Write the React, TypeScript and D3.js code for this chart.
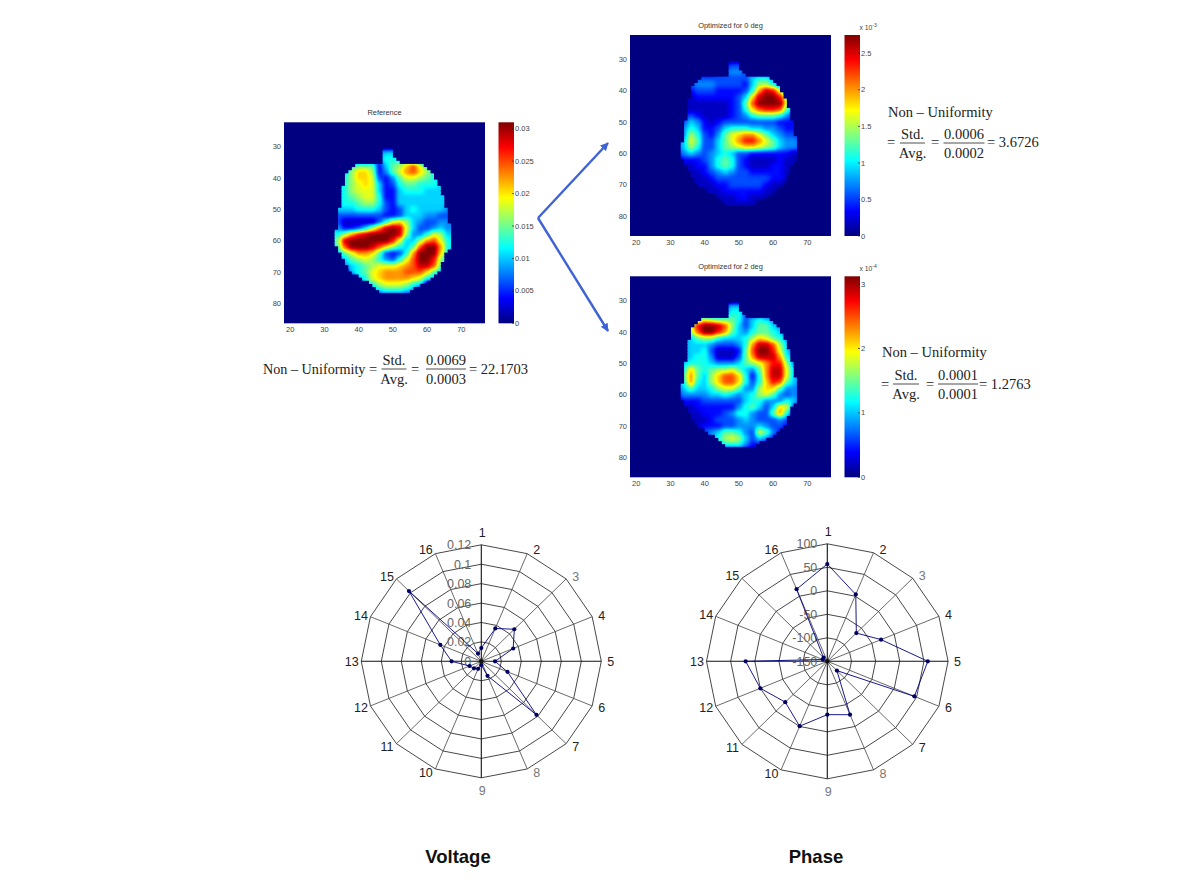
import React from 'react';
import * as d3 from 'd3';

// col centres 32,34..68 and row centres 30,32..78, one hex level per cell (0 = 0, f = bar max)
const colCenters = d3.range(32, 70, 2);
const rowCenters = d3.range(30, 80, 2);

const referenceRows = [
  '0000000000000000000',
  '0000000455400000000',
  '0000000466540000000',
  '00067772578ac964000',
  '0458aa82479bca86400',
  '0568aa9324799876500',
  '05689a9523677666540',
  '4568999522566655550',
  '4567899622555555554',
  '4566788632555555554',
  '4555666532356555544',
  '3333333322355544333',
  '3311111369a85433443',
  '4422358befe95334544',
  '668bdeffffe84469855',
  '58effffffd9558bc965',
  '57cfffeca8657cffb65',
  '0579bba73236bfffa60',
  '045789864369cffd850',
  '0045678999abceec700',
  '0005679abbbccca7500',
  '0000569abbbba965000',
  '0000056899986500000',
  '0000004566654000000',
  '0000000000000000000',
];

const zeroDegRows = [
  '0000000000000000000',
  '0000000233200000000',
  '0000002344320000000',
  '0023333333356642000',
  '0234443333258863200',
  '012333222236bed9420',
  '01122222235aeffd820',
  '01111111237cffff930',
  '01111111236acddc730',
  '1232111123467776421',
  '2354212333333332221',
  '3465223566655443221',
  '348632479abb9754332',
  '359733579bddb975443',
  '3586335789aa9875443',
  '2454345653322222211',
  '1222346763211112110',
  '0112246763211122110',
  '0111234543322222100',
  '0011123333333322100',
  '0001112233333211000',
  '0000111222222110000',
  '0000011112211100000',
  '0000000111110000000',
  '0000000000000000000',
];

const twoDegRows = [
  '0000000000000000000',
  '0000000355300000000',
  '0000003466300000000',
  '0057987776356543000',
  '059dffec85357754300',
  '048cffdb75467765300',
  '345788655568a976400',
  '34555433346beec8530',
  '34556311127cffd9530',
  '34566411137beeeb640',
  '4566654445789bdd840',
  '46a7678897547bee953',
  '47b758acca626bee953',
  '46b658acca636adc753',
  '3575568997448aa7443',
  '2444455654568974343',
  '1222333333566444653',
  '011222222467535a930',
  '001122234664337b620',
  '0011123334543334300',
  '0001222334445433200',
  '0000345776439742000',
  '0000046898535420000',
  '0000004666422000000',
  '0000000000000000000',
];

// blocky head outline, one row per y unit from 31 to 76
const maskRows = d3.range(31, 77);
const maskStart = [47, 47, 47, 47, 47, 39, 38, 37, 36, 36, 36, 36, 35, 35, 35, 35, 35, 35, 35, 34, 34, 34, 34, 34, 34, 34, 33, 33, 33, 33, 33, 34, 34, 35, 35, 36, 36, 37, 37, 38, 40, 41, 43, 44, 45, 46];
const maskEnd = [50, 50, 50, 51, 52, 59, 60, 61, 62, 62, 63, 63, 64, 64, 64, 65, 65, 65, 65, 66, 66, 66, 66, 66, 67, 67, 67, 67, 67, 67, 67, 67, 66, 65, 65, 65, 64, 64, 64, 63, 62, 61, 60, 58, 56, 55];

const xTicks = [20, 30, 40, 50, 60, 70];
const yTicks = [30, 40, 50, 60, 70, 80];

const refBarTicks = [0, 0.005, 0.01, 0.015, 0.02, 0.025, 0.03];
const refBarLabels = ['0', '0.005', '0.01', '0.015', '0.02', '0.025', '0.03'];
const zeroBarTicks = [0, 0.5, 1, 1.5, 2, 2.5];
const zeroBarLabels = ['0', '0.5', '1', '1.5', '2', '2.5'];
const twoBarTicks = [0, 1, 2, 3];
const twoBarLabels = ['0', '1', '2', '3'];

// radar charts
const spokes = d3.range(1, 17);
const fadedSpokes = [3, 8, 9];
const voltageValues = [0.0137, 0.0366, 0.0467, 0.0345, 0.0137, 0.0283, 0.078, 0.0162, 0.0038, 0.0084, 0.0103, 0.0127, 0.0297, 0.0444, 0.1023, 0.0086];
const voltageRings = [0, 0.02, 0.04, 0.06, 0.08, 0.1, 0.12];
const voltageRingLabels = ['0', '0.02', '0.04', '0.06', '0.08', '0.1', '0.12'];
const phaseValues = [57, 4, -65, -29.5, 58, 45, -122, -27, -36.5, -0.5, -27, 0, 19, -140, -139, 16];
const phaseRings = [-150, -100, -50, 0, 50, 100];
const phaseRingLabels = ['-150', '-100', '-50', '0', '50', '100'];

const jet = (v: number) => {
  const c = (d: number) => Math.max(0, Math.min(1, 1.5 - Math.abs(4 * v - d)));
  return [c(3), c(2), c(1)];
};
const jetSteps = d3.range(0, 1.0001, 1 / 64);
const jetTable = (ch: number) => jetSteps.map(v => jet(v)[ch].toFixed(3)).join(' ');
const jetCss = (v: number) => {
  const [r, g, b] = jet(v);
  return `rgb(${Math.round(r * 255)},${Math.round(g * 255)},${Math.round(b * 255)})`;
};

const sans = '"Liberation Sans", Arial, sans-serif';
const serif = '"Liberation Serif", "Times New Roman", serif';
const tickColor = '#444';

interface HeatProps {
  id: string;
  top: number;
  left: number;
  barLeft: number;
  title: string;
  rows: string[];
  barMax: number;
  barTicks: number[];
  barLabels: string[];
  exponent?: string;
}

const HeatMap: React.FC<HeatProps> = ({ id, top, left, barLeft, title, rows, barMax, barTicks, barLabels, exponent }) => {
  const w = 201;
  const h = 201;
  const x = d3.scaleLinear().domain([18.2, 76.9]).range([left, left + w]);
  const y = d3.scaleLinear().domain([22.2, 86.4]).range([top, top + h]);
  const bar = d3.scaleLinear().domain([0, barMax]).range([top + h, top]);
  const level = d3.scaleLinear().domain([0, 15]).range([0, 255]);
  return (
    <g>
      <defs>
        <clipPath id={`${id}-outline`}>
          {maskRows.map((r, i) => (
            <rect key={r} x={x(maskStart[i])} y={y(r - 0.5)} width={x(maskEnd[i]) - x(maskStart[i])} height={y(r + 0.5) - y(r - 0.5) + 1} />
          ))}
        </clipPath>
        <linearGradient id={`${id}-bar`} x1="0" y1="1" x2="0" y2="0">
          {jetSteps.map(v => <stop key={v} offset={v} stopColor={jetCss(v)} />)}
        </linearGradient>
      </defs>
      <rect x={left} y={top} width={w} height={h} fill={jetCss(0)} />
      <g clipPath={`url(#${id}-outline)`}>
        <g filter="url(#jetBlur)">
          <rect x={x(30)} y={y(28)} width={x(70) - x(30)} height={y(80) - y(28)} fill="#000" />
          {rows.map((row, ri) =>
            colCenters.map((c, ci) => {
              const g = Math.round(level(parseInt(row[ci], 16)));
              return (
                <rect key={`${ri}-${ci}`} x={x(c - 1)} y={y(rowCenters[ri] - 1)}
                  width={x(c + 1) - x(c - 1) + 0.6} height={y(rowCenters[ri] + 1) - y(rowCenters[ri] - 1) + 0.6}
                  fill={`rgb(${g},${g},${g})`} />
              );
            })
          )}
        </g>
      </g>
      <text x={left + w / 2} y={top - 7} textAnchor="middle" fontFamily={sans} fontSize={7.4} fill="#333">{title}</text>
      {xTicks.map(t => (
        <text key={t} x={x(t)} y={top + h + 8.5} textAnchor="middle" fontFamily={sans} fontSize={7.5} fill={tickColor}>{t}</text>
      ))}
      {yTicks.map(t => (
        <text key={t} x={left - 3} y={y(t) + 2.6} textAnchor="end" fontFamily={sans} fontSize={7.5} fill={tickColor}>{t}</text>
      ))}
      <rect x={barLeft} y={top} width={15.5} height={h} fill={`url(#${id}-bar)`} />
      {barTicks.map((t, i) => (
        <g key={t}>
          <line x1={barLeft + 13.5} x2={barLeft + 15.5} y1={bar(t)} y2={bar(t)} stroke="#222" strokeWidth={0.7} />
          <text x={barLeft + 16.5} y={bar(t) + 2.6} fontFamily={sans} fontSize={7.5} fill={tickColor}>{barLabels[i]}</text>
        </g>
      ))}
      {exponent && (
        <text x={barLeft + 15} y={top - 5} fontFamily={sans} fontSize={6.8} fill={tickColor}>
          x 10<tspan dy={-3} fontSize={5}>{exponent}</tspan>
        </text>
      )}
    </g>
  );
};

interface RatioProps {
  cx: number;
  width: number;
  line: number;
  top: string;
  bottom: string;
}

const Ratio: React.FC<RatioProps> = ({ cx, width, line, top, bottom }) => (
  <g>
    <text x={cx} y={line - 4.5} textAnchor="middle">{top}</text>
    <line x1={cx - width / 2} x2={cx + width / 2} y1={line} y2={line} stroke="#222" strokeWidth={0.8} />
    <text x={cx} y={line + 15} textAnchor="middle">{bottom}</text>
  </g>
);

interface RadarProps {
  cx: number;
  cy: number;
  rx: number;
  ry: number;
  rings: number[];
  ringLabels: string[];
  values: number[];
}

const Radar: React.FC<RadarProps> = ({ cx, cy, rx, ry, rings, ringLabels, values }) => {
  const domain = [rings[0], rings[rings.length - 1]];
  const rX = d3.scaleLinear().domain(domain).range([0, rx]);
  const rY = d3.scaleLinear().domain(domain).range([0, ry]);
  const angle = d3.scaleLinear().domain([1, 17]).range([0, 2 * Math.PI]);
  const px = (s: number, v: number) => cx + rX(v) * Math.sin(angle(s));
  const py = (s: number, v: number) => cy - rY(v) * Math.cos(angle(s));
  const poly = d3.line<number>().x((v, i) => px(i + 1, v)).y((v, i) => py(i + 1, v)).curve(d3.curveLinearClosed);
  const top = domain[1];
  // spoke labels sit a fixed offset beyond the tip, not along the spoke
  const labelX = (s: number) => {
    const sin = Math.sin(angle(s));
    return px(s, top) + (Math.abs(sin) < 0.01 ? 1 : Math.sign(sin) * 9.5);
  };
  const labelY = (s: number) => {
    const cos = Math.cos(angle(s));
    return py(s, top) + (Math.abs(cos) > 0.99 ? -Math.sign(cos) * 12.5 : -cos * 4) + 4.5;
  };
  return (
    <g>
      {rings.slice(1).map(r => (
        <path key={r} d={poly(spokes.map(() => r)) || ''} fill="none" stroke="#333" strokeWidth={0.9} />
      ))}
      {spokes.map(s => (
        <line key={s} x1={cx} y1={cy} x2={px(s, top)} y2={py(s, top)} stroke={(s - 1) % 4 === 0 ? '#111' : '#444'} strokeWidth={(s - 1) % 4 === 0 ? 1.1 : 0.8} />
      ))}
      {rings.map((r, i) => (
        <text key={r} x={cx - 10} y={cy - rY(r) + 4.5} textAnchor="end" fontFamily={sans} fontSize={12.5} fill="#666">{ringLabels[i]}</text>
      ))}
      {spokes.map(s => (
        <text key={s} x={labelX(s)} y={labelY(s)} textAnchor="middle"
          fontFamily={sans} fontSize={12.5} fill={fadedSpokes.includes(s) ? '#777' : '#222'}>{s}</text>
      ))}
      <path d={poly(values) || ''} fill="none" stroke="#000080" strokeWidth={0.9} />
      {values.map((v, i) => <circle key={i} cx={px(i + 1, v)} cy={py(i + 1, v)} r={2.1} fill="#000060" />)}
      <circle cx={cx} cy={cy} r={2.2} fill="#111" />
    </g>
  );
};

const arrowColor = '#3f62d4';

export default function App() {
  return (
    <svg width={1185} height={886} style={{ position: 'absolute', left: 0, top: 0, background: '#fff' }}>
      <defs>
        <filter id="jetBlur" x="0" y="0" width="1" height="1" colorInterpolationFilters="sRGB">
          <feGaussianBlur stdDeviation="2.3" />
          <feComponentTransfer>
            <feFuncR type="table" tableValues={jetTable(0)} />
            <feFuncG type="table" tableValues={jetTable(1)} />
            <feFuncB type="table" tableValues={jetTable(2)} />
          </feComponentTransfer>
        </filter>
        <marker id="head" viewBox="0 0 10 10" refX="9" refY="5" markerWidth="3.4" markerHeight="3.4" orient="auto">
          <path d="M0,0L10,5L0,10z" fill={arrowColor} />
        </marker>
      </defs>

      <HeatMap id="ref" top={122.3} left={284} barLeft={498.5} title="Reference" rows={referenceRows}
        barMax={0.031} barTicks={refBarTicks} barLabels={refBarLabels} />
      <HeatMap id="zero" top={35} left={630} barLeft={844.5} title="Optimized for 0 deg" rows={zeroDegRows}
        barMax={2.75} barTicks={zeroBarTicks} barLabels={zeroBarLabels} exponent="-3" />
      <HeatMap id="two" top={276.3} left={630} barLeft={844.5} title="Optimized for 2 deg" rows={twoDegRows}
        barMax={3.12} barTicks={twoBarTicks} barLabels={twoBarLabels} exponent="-4" />

      <line x1={538} y1={218} x2={608} y2={143} stroke={arrowColor} strokeWidth={2.4} markerEnd="url(#head)" />
      <line x1={538} y1={218} x2={608} y2={331} stroke={arrowColor} strokeWidth={2.4} markerEnd="url(#head)" />

      <g fontFamily={serif} fontSize={14.5} fill="#222">
        <text x={263} y={374} fontSize={14.2}>Non – Uniformity</text>
        <text x={369} y={374}>=</text>
        <Ratio cx={394} width={25} line={369} top="Std." bottom="Avg." />
        <text x={411} y={374}>=</text>
        <Ratio cx={446} width={40} line={369} top="0.0069" bottom="0.0003" />
        <text x={469} y={374}>= 22.1703</text>

        <text x={888} y={117}>Non – Uniformity</text>
        <text x={887} y={147}>=</text>
        <Ratio cx={912.5} width={25} line={143} top="Std." bottom="Avg." />
        <text x={931} y={147}>=</text>
        <Ratio cx={964} width={41} line={143} top="0.0006" bottom="0.0002" />
        <text x={987} y={147}>= 3.6726</text>

        <text x={882} y={357}>Non – Uniformity</text>
        <text x={881} y={389}>=</text>
        <Ratio cx={906} width={26} line={384} top="Std." bottom="Avg." />
        <text x={926} y={389}>=</text>
        <Ratio cx={958} width={40} line={384} top="0.0001" bottom="0.0001" />
        <text x={979} y={389}>= 1.2763</text>
      </g>

      <Radar cx={481.3} cy={661.3} rx={120} ry={116.5} rings={voltageRings} ringLabels={voltageRingLabels} values={voltageValues} />
      <Radar cx={827.3} cy={661.3} rx={120.8} ry={117.5} rings={phaseRings} ringLabels={phaseRingLabels} values={phaseValues} />

      <text x={458} y={863} textAnchor="middle" fontFamily={sans} fontWeight="bold" fontSize={18.5} fill="#111">Voltage</text>
      <text x={816} y={863} textAnchor="middle" fontFamily={sans} fontWeight="bold" fontSize={18.5} fill="#111">Phase</text>
    </svg>
  );
}
